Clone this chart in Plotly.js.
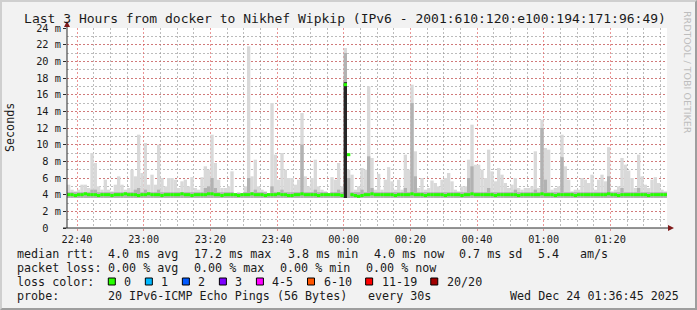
<!DOCTYPE html>
<html>
<head>
<meta charset="utf-8">
<script src="https://cdn.plot.ly/plotly-3.0.1.min.js"></script>
<style>
  html, body { margin: 0; padding: 0; background: #f2f2f2; }
  #wrap { position: relative; width: 697px; height: 310px; }
  #chart { position: absolute; left: 0; top: 0; width: 697px; height: 310px; }
  #frame { position: absolute; left: 0; top: 0; width: 697px; height: 310px; box-sizing: border-box;
           border-top: 2px solid #cfcfcf; border-left: 2px solid #cfcfcf;
           border-right: 2px solid #9e9e9e; border-bottom: 2px solid #9e9e9e; pointer-events: none; }
</style>
</head>
<body>
<div id="wrap"><div id="chart"></div><div id="frame"></div></div>
<script>
// ---------------- DATA ----------------
const startTime = '2025-12-23 22:37:00';   // first 1-minute bin
const endTime   = '2025-12-24 01:37:00';
const stepMinutes = 1;

// median RTT per bin (ms)
const medianRtt = [
 4.0,4.0,3.9,4.0,4.0,4.1,4.0,4.0,4.0,3.9,
 4.0,4.0,4.0,3.9,4.0,4.0,4.0,4.1,4.0,4.0,
 4.0,3.9,4.0,4.0,4.1,4.0,4.0,4.0,3.9,4.0,
 4.0,4.0,4.0,4.0,4.1,4.0,4.0,3.9,4.0,4.0,
 4.0,4.0,4.1,4.1,4.0,4.0,3.9,4.0,4.0,4.0,
 4.0,3.9,4.0,4.0,4.0,4.1,4.0,4.0,4.0,3.9,
 4.0,4.0,4.0,4.1,4.0,4.0,3.9,3.9,4.0,4.0,
 4.1,4.0,4.0,4.0,4.0,3.9,4.0,4.0,4.0,4.0,
 4.0,4.0,3.9,17.2,8.8,4.0,3.9,3.8,3.9,4.0,
 4.0,4.1,4.0,4.0,4.0,4.0,4.0,4.0,3.9,4.0,
 4.0,4.0,4.0,4.1,4.0,4.0,4.0,3.9,4.0,4.0,
 4.0,4.0,4.0,3.9,4.0,4.0,4.0,4.0,3.9,4.0,
 4.0,4.1,4.0,4.0,4.0,4.0,4.0,4.0,3.9,4.0,
 4.0,4.0,4.0,4.0,4.0,3.9,4.0,4.0,4.0,4.0,
 4.0,4.0,4.1,4.0,4.0,4.0,3.9,4.0,4.0,4.0,
 4.0,4.0,3.9,4.0,4.0,4.0,4.0,4.0,4.0,4.0,
 4.0,4.0,4.1,4.0,4.0,3.9,4.0,4.0,4.0,4.0,
 4.0,4.0,4.0,4.0,3.9,4.0,4.0,4.0,4.0,4.0
];

// smoke: fastest ping per bin (ms)
const smokeMin = [
 3.6,3.6,3.6,3.6,3.6,3.6,3.6,3.6,3.6,3.6, 3.6,3.6,3.6,3.6,3.6,3.6,3.6,3.6,3.6,3.6,
 3.6,3.6,3.6,3.6,3.6,3.6,3.6,3.6,3.6,3.6, 3.6,3.6,3.6,3.6,3.6,3.6,3.6,3.6,3.6,3.6,
 3.6,3.6,3.6,3.6,3.6,3.6,3.6,3.6,3.6,3.6, 3.6,3.6,3.6,3.6,3.6,3.6,3.6,3.6,3.6,3.6,
 3.6,3.6,3.6,3.6,3.6,3.6,3.6,3.6,3.6,3.6, 3.6,3.6,3.6,3.6,3.6,3.6,3.6,3.6,3.6,3.6,
 3.6,3.6,3.6,3.6,3.6,3.6,3.6,3.6,3.6,3.6, 3.6,3.6,3.6,3.6,3.6,3.6,3.6,3.6,3.6,3.6,
 3.6,3.6,3.6,3.6,3.6,3.6,3.6,3.6,3.6,3.6, 3.6,3.6,3.6,3.6,3.6,3.6,3.6,3.6,3.6,3.6,
 3.6,3.6,3.6,3.6,3.6,3.6,3.6,3.6,3.6,3.6, 3.6,3.6,3.6,3.6,3.6,3.6,3.6,3.6,3.6,3.6,
 3.6,3.6,3.6,3.6,3.6,3.6,3.6,3.6,3.6,3.6, 3.6,3.6,3.6,3.6,3.6,3.6,3.6,3.6,3.6,3.6,
 3.6,3.6,3.6,3.6,3.6,3.6,3.6,3.6,3.6,3.6, 3.6,3.6,3.6,3.6,3.6,3.6,3.6,3.6,3.6,3.6
];

// smoke: slowest ping per bin (ms)
const smokeMax = [
 5.2,4.6,4.4,4.6,5.2,5.2,4.8,9.0,7.8,5.0,
 4.6,5.8,4.6,4.4,5.2,6.2,5.2,4.6,4.8,7.0,
 6.2,11.2,6.6,10.2,5.2,6.4,5.2,10.0,6.0,5.0,
 6.0,6.0,5.8,4.8,5.6,5.8,5.0,6.1,4.8,4.6,
 6.1,7.4,7.0,11.2,7.8,5.8,4.8,4.8,5.0,6.8,
 4.2,4.3,4.2,5.0,21.8,6.2,8.2,5.0,4.6,4.4,
 4.2,15.0,8.8,5.8,9.0,7.0,6.0,6.0,5.2,5.8,
 13.8,6.2,5.0,6.0,8.2,5.0,4.6,4.4,4.2,6.1,
 5.8,7.8,5.0,21.6,7.0,6.4,4.6,5.0,7.2,7.0,
 17.0,8.4,4.6,6.5,4.6,5.8,7.3,5.6,4.6,5.8,
 4.6,8.8,7.0,17.2,9.2,4.8,6.0,4.6,4.8,5.7,
 5.4,5.0,5.8,6.0,6.6,5.6,4.6,4.4,5.0,5.0,
 8.2,12.4,7.6,7.6,7.0,6.0,9.4,6.8,5.6,7.2,
 6.4,5.4,4.8,5.2,6.0,4.8,4.6,4.8,4.8,5.0,
 9.2,4.8,13.0,9.6,9.4,4.6,4.8,5.0,11.2,7.4,
 5.8,4.4,4.6,4.6,6.0,5.8,5.4,6.4,4.6,5.8,
 6.4,5.6,9.7,4.4,4.6,5.0,8.4,7.6,6.9,6.0,
 4.8,8.8,6.2,5.2,4.8,5.8,6.1,5.4,4.6,4.4
];

// smoke: upper inner pings per bin (ms) - darker band
const smokeUpper = [
 4.3,4.3,4.3,4.3,4.3,4.3,4.3,4.6,4.6,4.3,
 4.3,4.3,4.3,4.3,4.3,4.3,4.3,4.3,4.3,4.3,
 4.6,4.8,4.3,4.6,4.3,4.3,4.3,4.6,4.3,4.3,
 4.3,4.3,4.3,4.3,4.3,4.3,4.3,4.3,4.3,4.3,
 4.3,4.8,5.0,6.0,4.8,4.3,4.3,4.3,4.3,4.3,
 4.2,4.2,4.2,4.3,6.0,4.3,4.6,4.3,4.3,4.3,
 4.2,5.0,4.3,4.3,4.6,4.3,4.3,4.3,4.3,4.3,
 10.0,4.3,4.3,4.3,4.6,4.3,4.3,4.3,4.2,4.3,
 4.3,4.6,4.3,21.0,6.0,4.3,4.3,4.3,4.6,4.3,
 8.6,4.8,4.3,4.3,4.3,4.3,4.3,4.3,4.3,4.3,
 4.3,4.8,4.3,15.0,6.2,4.3,4.3,4.3,4.3,4.3,
 4.3,4.3,4.3,4.3,4.3,4.3,4.3,4.3,4.3,4.3,
 6.0,7.4,4.3,4.3,4.3,4.3,4.8,4.3,4.3,4.3,
 4.3,4.3,4.3,4.3,4.6,4.3,4.3,4.3,4.3,4.3,
 4.6,4.3,12.0,5.8,4.3,4.3,4.3,4.3,8.5,4.3,
 4.3,4.3,4.3,4.3,4.3,4.3,4.3,4.3,4.3,4.3,
 4.3,4.3,6.2,4.3,4.3,4.3,4.8,4.3,4.3,4.3,
 4.3,4.8,4.3,4.3,4.3,4.3,4.3,4.3,4.3,4.3
];

// bins where nearly all pings were slow (dark core of the smoke)
const coreBins = [83];
const coreTop  = [17.5];

// axis labels
const yTickVals = [0,2,4,6,8,10,12,14,16,18,20,22,24];
const yTickText = ['0\u00a0\u00a0','2 m','4 m','6 m','8 m','10 m','12 m','14 m','16 m','18 m','20 m','22 m','24 m'];

// texts
const titleText = 'Last 3 Hours from docker to Nikhef Wipkip (IPv6 - 2001:610:120:e100:194:171:96:49)';
const yTitle = 'Seconds';
const rttLabel = 'median rtt:';
const rttItems = ['4.0 ms avg','17.2 ms max','3.8 ms min','4.0 ms now','0.7 ms sd','5.4','am/s'];
const lossLabel = 'packet loss:';
const lossItems = ['0.00 % avg','0.00 % max','0.00 % min','0.00 % now'];
const lossColorLabel = 'loss color:';
const lossCats = ['0','1','2','3','4-5','6-10','11-19','20/20'];
const lossColors = ['#26ff00','#00b8ff','#0059ff','#7e00ff','#ff00ff','#ff5500','#ff0000','#a10000'];
const probeLabel = 'probe:';
const probeItems = ['20 IPv6-ICMP Echo Pings (56 Bytes)','every 30s'];
const stampText = 'Wed Dec 24 01:36:45 2025';
const watermark = 'RRDTOOL / TOBI OETIKER';

// ---------------- BUILD ----------------
function pad(n){ return (n<10?'0':'')+n; }
function fmt(ms){
  const d = new Date(ms);
  return d.getUTCFullYear()+'-'+pad(d.getUTCMonth()+1)+'-'+pad(d.getUTCDate())+' '+
         pad(d.getUTCHours())+':'+pad(d.getUTCMinutes())+':'+pad(d.getUTCSeconds());
}
const t0 = Date.parse(startTime.replace(' ','T')+'Z');
const stepMs = stepMinutes*60000;
const xs = medianRtt.map((_,i)=>fmt(t0 + (i+0.5)*stepMs));

const MONO = "'DejaVu Sans Mono', monospace";
const FONT_COLOR = '#1a1a1a';
const medThick = 0.36;

const traces = [
  { type:'bar', x: xs, base: smokeMin, y: smokeMax.map((v,i)=>v-smokeMin[i]), width: stepMs,
    marker:{color:'#d9d9d9', line:{width:0}}, hoverinfo:'skip' },
  { type:'bar', x: xs, base: smokeMin, y: smokeUpper.map((v,i)=>v-smokeMin[i]), width: stepMs,
    marker:{color:'#b2b2b2', line:{width:0}}, hoverinfo:'skip' },
  { type:'bar', x: coreBins.map(i=>xs[i]), base: coreBins.map(i=>smokeMin[i]),
    y: coreBins.map((b,k)=>coreTop[k]-smokeMin[b]), width: stepMs,
    marker:{color:'#262626', line:{width:0}}, hoverinfo:'skip' },
  { type:'bar', x: xs, base: medianRtt.map(v=>v-medThick/2), y: medianRtt.map(()=>medThick), width: stepMs,
    marker:{color: lossColors[0], line:{width:0}}, hoverinfo:'skip' }
];

const L = 67, R = 667, T = 28, B = 228;
const px = x => (x - L)/(R - L);
const py = y => (B - y)/(B - T);

const annotations = [];
function txt(x, y, text, opts){
  annotations.push(Object.assign({xref:'paper', yref:'paper', x:px(x), y:py(y), text:text,
    showarrow:false, xanchor:'left', yanchor:'middle', borderpad:0,
    font:{family:MONO, size:11.7, color:FONT_COLOR}}, opts||{}));
}
// legend line 1
txt(16, 254, rttLabel);
[107.3,193.3,286.7,372.7,458.3,537.3,579.3].forEach((x,i)=>txt(x,254,rttItems[i]));
// line 2
txt(16, 268, lossLabel);
[107.3,193.3,279.3,365].forEach((x,i)=>txt(x,268,lossItems[i]));
// line 3
txt(16, 281.5, lossColorLabel);
const shapes = [];
let bx = 108.3;
lossCats.forEach((c,i)=>{
  shapes.push({type:'rect', xref:'paper', yref:'paper', x0:px(bx), x1:px(bx+7), y0:py(285), y1:py(278),
    fillcolor: lossColors[i], line:{color:'#000', width:1}});
  const lx = bx + 15;
  txt(lx, 281.5, c);
  bx = lx + c.length*7.03 + 15;
});
// line 4
txt(16, 295.7, probeLabel);
[107.3,366.7].forEach((x,i)=>txt(x,295.7,probeItems[i]));
txt(680, 295.7, stampText, {xanchor:'right'});
// y title
txt(10, 128, yTitle, {xanchor:'center', textangle:-90});
// watermark
txt(688, 72, watermark, {xanchor:'center', textangle:90, font:{family:"'DejaVu Sans', sans-serif", size:9.5, color:'#bdbdbd'}});

// axes lines and arrows
const AX = '#2a2a2a', ARROW = '#7f1a1a';
shapes.push({type:'line', xref:'paper', yref:'paper', x0:px(67), x1:px(67), y0:py(228), y1:py(24), line:{color:AX, width:1}});
shapes.push({type:'line', xref:'paper', yref:'paper', x0:px(63), x1:px(670), y0:py(228), y1:py(228), line:{color:AX, width:1}});
shapes.push({type:'path', xref:'paper', yref:'paper',
  path:`M ${px(64)} ${py(27)} L ${px(70)} ${py(27)} L ${px(67)} ${py(21)} Z`, fillcolor:ARROW, line:{width:0}});
shapes.push({type:'path', xref:'paper', yref:'paper',
  path:`M ${px(668)} ${py(225)} L ${px(668)} ${py(231)} L ${px(674)} ${py(228)} Z`, fillcolor:ARROW, line:{width:0}});

const MGRID = 'rgba(222,79,79,0.6)', GRID = 'rgba(143,143,143,0.6)';

const layout = {
  width: 697, height: 310,
  margin: {l:L, r:697-R, t:T, b:310-B, pad:0},
  paper_bgcolor: '#f2f2f2', plot_bgcolor: '#ffffff',
  showlegend: false, barmode: 'overlay',
  title: {text: titleText, xref:'container', yref:'container', x: 345/697, y: 1-18/310,
          xanchor:'center', yanchor:'middle', font:{family:MONO, size:13, color:FONT_COLOR}},
  xaxis: {type:'date', range:[startTime, endTime], tick0:'2025-12-23 22:40:00', dtick: 20*60000,
          tickformat:'%H:%M', showgrid:true, gridcolor:MGRID, griddash:'2px,2px', gridwidth:1,
          ticks:'outside', ticklen:2, tickcolor:MGRID, zeroline:false, showline:false,
          tickfont:{family:MONO, size:10.3, color:FONT_COLOR},
          minor:{dtick:5*60000, showgrid:true, gridcolor:GRID, griddash:'2px,2px', gridwidth:1, ticks:''},
          fixedrange:true},
  yaxis: {range:[0,24], tickvals:yTickVals, ticktext:yTickText, showgrid:true, gridcolor:MGRID,
          griddash:'2px,2px', gridwidth:1, ticks:'outside', ticklen:3, tickcolor:AX, zeroline:false,
          showline:false, tickfont:{family:MONO, size:10.3, color:FONT_COLOR},
          minor:{dtick:1, tick0:0, showgrid:true, gridcolor:GRID, griddash:'2px,2px', gridwidth:1, ticks:''},
          fixedrange:true},
  annotations: annotations,
  shapes: shapes
};

Plotly.newPlot('chart', traces, layout, {displayModeBar:false, staticPlot:true});
</script>
</body>
</html>
